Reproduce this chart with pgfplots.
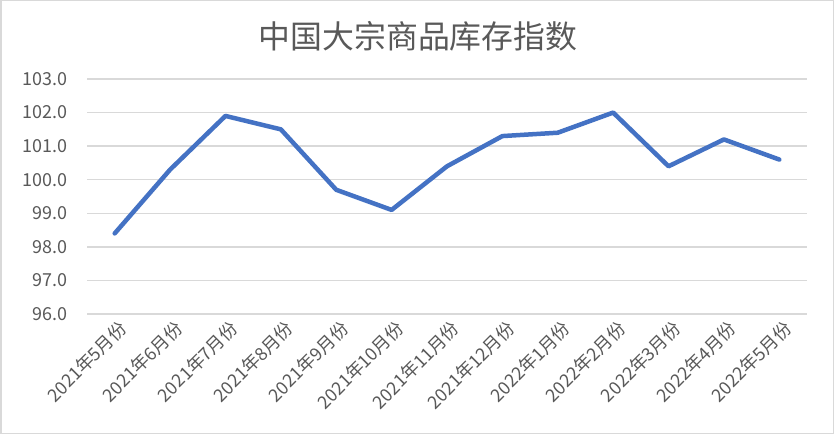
\documentclass[border=0pt]{standalone}
\usepackage{fontspec}
\setmainfont{Noto Sans CJK SC}
\usepackage{pgfplots}
\pgfplotsset{compat=1.18}
\definecolor{lineblue}{HTML}{4472C4}
\definecolor{gridgray}{HTML}{D9D9D9}
\definecolor{textgray}{HTML}{595959}
\begin{document}
\begin{tikzpicture}
\useasboundingbox (0,0) rectangle (834bp,434bp);
\fill[white] (0,0) rectangle (834bp,434bp);
\draw[gridgray, line width=1.5bp] (0.75bp,0.75bp) rectangle (833.25bp,433.25bp);
\node[text=textgray, font=\fontsize{32}{36}\selectfont] at (418bp,398bp) {中国大宗商品库存指数};
\begin{axis}[
  at={(87bp,120bp)}, anchor=south west,
  scale only axis, width=720bp, height=235bp,
  xmin=-0.5, xmax=12.5, ymin=96, ymax=103,
  ytick={96,97,...,103},
  xtick={0,...,12},
  xticklabels={2021年5月份,2021年6月份,2021年7月份,2021年8月份,2021年9月份,2021年10月份,2021年11月份,2021年12月份,2022年1月份,2022年2月份,2022年3月份,2022年4月份,2022年5月份},
  axis line style={draw=none},
  major tick length=0pt,
  ymajorgrids, grid style={gridgray, line width=1.5bp},
  /pgf/number format/assume math mode=true,
  yticklabel style={/pgf/number format/fixed, /pgf/number format/fixed zerofill, /pgf/number format/precision=1},
  yticklabel style={font=\fontsize{18}{20}\selectfont, text=textgray, xshift=-16bp},
  xticklabel style={font=\fontsize{18}{20}\selectfont, text=textgray, rotate=45, anchor=east, xshift=2bp, yshift=-14bp},
  clip=false,
]
\addplot[lineblue, line width=4.5bp, line join=round, line cap=round] coordinates {
(0,98.4) (1,100.3) (2,101.9) (3,101.5) (4,99.7) (5,99.1) (6,100.4) (7,101.3) (8,101.4) (9,102.0) (10,100.4) (11,101.2) (12,100.6)
};
\end{axis}
\end{tikzpicture}
\end{document}
